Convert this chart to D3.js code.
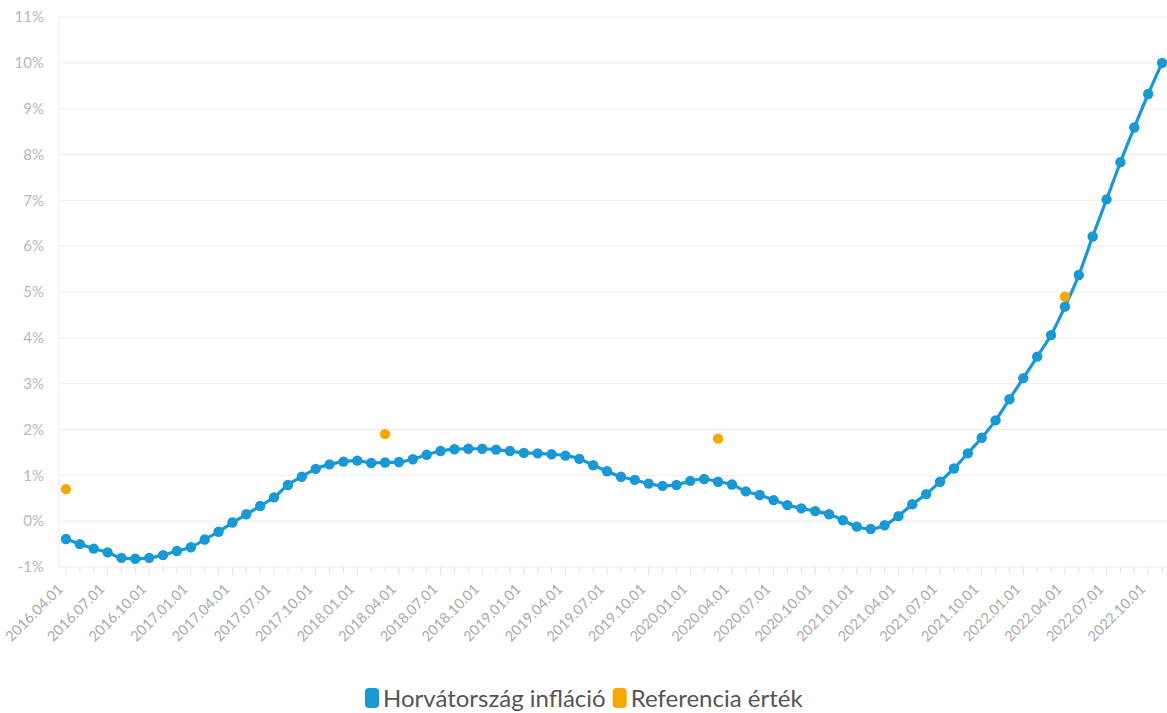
<!DOCTYPE html>
<html><head><meta charset="utf-8">
<script src="https://cdn.jsdelivr.net/npm/d3@7"></script>
<style>
body{margin:0;background:#fff;}
text{font-family:Lato,"Open Sans",sans-serif;}
</style></head>
<body><svg id="c" width="1167" height="713"></svg>
<script>
const startYear = 2016, startMonth = 4, monthCount = 80;
const inflation = [-0.39,-0.5,-0.6,-0.68,-0.8,-0.82,-0.8,-0.74,-0.65,-0.57,-0.4,-0.23,-0.03,0.15,0.33,0.52,0.79,0.97,1.14,1.24,
 1.3,1.32,1.27,1.28,1.29,1.35,1.45,1.53,1.57,1.58,1.58,1.56,1.53,1.49,1.48,1.46,1.43,1.36,1.22,1.09,
 0.97,0.9,0.82,0.77,0.79,0.88,0.92,0.86,0.8,0.65,0.57,0.46,0.35,0.28,0.22,0.15,0.02,-0.12,-0.17,-0.09,
 0.11,0.37,0.59,0.86,1.15,1.48,1.82,2.2,2.66,3.12,3.59,4.06,4.68,5.37,6.21,7.02,7.83,8.59,9.32,10.0];
const refIndex = [0, 23, 47, 72];
const refValue = [0.7, 1.9, 1.8, 4.9];
const yTicks = [-1,0,1,2,3,4,5,6,7,8,9,10,11];
const seriesNames = ["Horvátország infláció","Referencia érték"];
const colors = ["#1899d6","#f7a800"];

const labels = d3.range(monthCount).map(i=>{
  const m = startMonth - 1 + i; const y = startYear + Math.floor(m/12); const mm = m%12+1;
  return y + "." + String(mm).padStart(2,"0") + ".01";
});

const svg = d3.select("#c");
const x = d3.scaleBand().domain(labels).range([59,1169]);
const cx = d => x(d) + x.bandwidth()/2;
const y = d3.scaleLinear().domain([-1,11]).range([567,17]);

// grid
svg.append("g").selectAll("line").data(yTicks).join("line")
  .attr("x1",59).attr("x2",1167).attr("y1",d=>y(d)).attr("y2",d=>y(d))
  .attr("stroke","#ececec").attr("stroke-width",1);
svg.append("line").attr("x1",59).attr("x2",59).attr("y1",y(11)).attr("y2",y(-1)).attr("stroke","#ececec");

// y labels
svg.append("g").selectAll("text").data(yTicks).join("text")
  .attr("x",44).attr("y",d=>y(d)).attr("dy","0.35em").attr("text-anchor","end")
  .attr("font-size",15).attr("fill","#b8b8b8").text(d=>d+"%");

// x ticks
svg.append("g").selectAll("line").data(labels).join("line")
  .attr("x1",d=>cx(d)).attr("x2",d=>cx(d)).attr("y1",567).attr("y2",(d,i)=>i%3===0?575:573)
  .attr("stroke","#e3e3e3");
svg.append("g").selectAll("text").data(labels.filter((d,i)=>i%3===0)).join("text")
  .attr("transform",d=>`translate(${cx(d)-2},${590}) rotate(-45)`)
  .attr("text-anchor","end").attr("font-size",14.5).attr("fill","#acacac").text(d=>d);

// line
const pts = inflation.map((v,i)=>({k:labels[i],v}));
svg.append("path").datum(pts)
  .attr("d", d3.line().x(d=>cx(d.k)).y(d=>y(d.v)).curve(d3.curveMonotoneX))
  .attr("fill","none").attr("stroke",colors[0]).attr("stroke-width",3.2);
svg.append("g").selectAll("circle").data(pts).join("circle")
  .attr("cx",d=>cx(d.k)).attr("cy",d=>y(d.v)).attr("r",5.2).attr("fill",colors[0]);

// reference points
svg.append("g").selectAll("circle").data(refIndex.map((ix,i)=>({k:labels[ix],v:refValue[i]}))).join("circle")
  .attr("cx",d=>cx(d.k)).attr("cy",d=>y(d.v)).attr("r",5.2).attr("fill",colors[1]);

// legend
const lg = svg.append("g");
let lx = 365;
seriesNames.forEach((n,i)=>{
  lg.append("rect").attr("x",lx).attr("y",688).attr("width",14).attr("height",20).attr("rx",4).attr("fill",colors[i]);
  const t = lg.append("text").attr("x",lx+18).attr("y",707).attr("font-size",24).attr("fill","#555").text(n);
  lx += 18 + t.node().getComputedTextLength() + 7;
});
</script></body></html>
